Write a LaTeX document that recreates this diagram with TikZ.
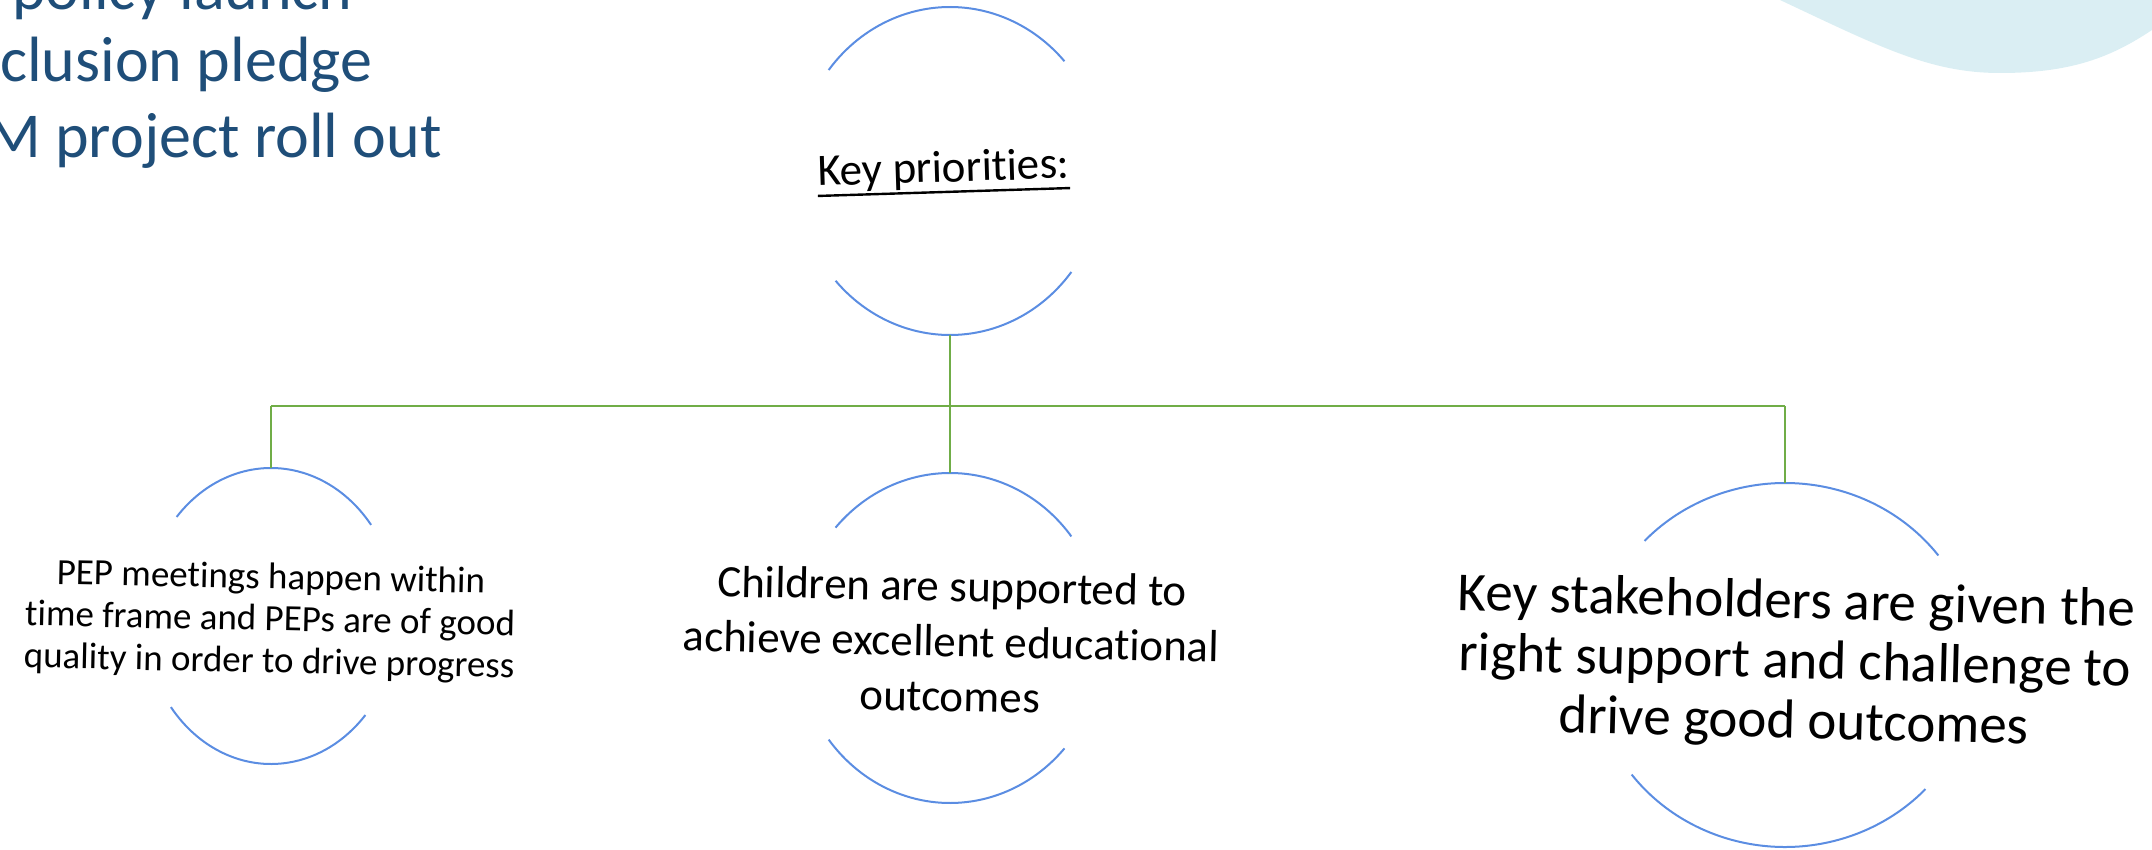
\documentclass[tikz,border=0pt]{standalone}
\usepackage{fontspec}
\setmainfont{Carlito}[Ligatures=NoCommon]
\usetikzlibrary{calc}
\definecolor{ringblue}{RGB}{91,141,226}
\definecolor{linkgreen}{RGB}{112,173,71}
\definecolor{slideblue}{RGB}{31,78,121}
\definecolor{blobblue}{RGB}{218,238,243}

\begin{document}
\begin{tikzpicture}[x=1pt,y=1pt,
  ring/.style={ringblue,line width=2pt},
  link/.style={linkgreen,line width=1.8pt},
  busline/.style={linkgreen,line width=2.6pt},
  note/.style={text=slideblue,font=\fontsize{64}{76}\selectfont,anchor=base west,inner sep=0pt},
  prio/.style={align=center,inner sep=0pt}]
\clip (0,0) rectangle (2152,-850);
% backdrop shape top right
\fill[blobblue] (1780,0) .. controls (1880,-47) and (1930,-73) .. (2000,-73)
  .. controls (2070,-73) and (2110,-58) .. (2152,-30) -- (2152,0) -- cycle;
% bullet lines cut at the left edge
\node[note] (launch) at (12,-10) {policy launch};
\node[note] (pledge) at (0,-82) {clusion pledge};
\node[note] (rollout) at (-14,-158) {M project roll out};
% ring centres
\coordinate (top) at (950,-171);
\coordinate (pep) at (271,-616);
\coordinate (mid) at (950,-638);
\coordinate (stake) at (1785,-665);
% ring ends for the tree
\coordinate (top-s) at ($(top)+(0,-164)$);
\coordinate (pep-n) at ($(pep)+(0,148)$);
\coordinate (mid-n) at ($(mid)+(0,165)$);
\coordinate (stake-n) at ($(stake)+(0,182)$);
\coordinate (bus) at (0,-406);
% arcs top ring
\draw[ring] ($(top)+(142:154pt and 164pt)$) arc[start angle=142,end angle=42,x radius=154pt,y radius=164pt];
\draw[ring] ($(top)+(222:154pt and 164pt)$) arc[start angle=222,end angle=322,x radius=154pt,y radius=164pt];
% arcs left ring
\draw[ring] ($(pep)+(138:127pt and 148pt)$) arc[start angle=138,end angle=38,x radius=127pt,y radius=148pt];
\draw[ring] ($(pep)+(218:127pt and 148pt)$) arc[start angle=218,end angle=318,x radius=127pt,y radius=148pt];
% arcs middle ring
\draw[ring] ($(mid)+(138:154pt and 165pt)$) arc[start angle=138,end angle=38,x radius=154pt,y radius=165pt];
\draw[ring] ($(mid)+(218:154pt and 165pt)$) arc[start angle=218,end angle=318,x radius=154pt,y radius=165pt];
% arcs right ring
\draw[ring] ($(stake)+(137:192pt and 182pt)$) arc[start angle=137,end angle=37,x radius=192pt,y radius=182pt];
\draw[ring] ($(stake)+(217:192pt and 182pt)$) arc[start angle=217,end angle=317,x radius=192pt,y radius=182pt];
% texts
\node[prio,anchor=base,rotate=1.8,font=\fontsize{45}{55}\selectfont] (keyp) at (944,-182) {Key priorities:};
\draw[line width=2.4pt] ($(keyp.base west)+(0,-10)$) -- ($(keyp.base east)+(0,-10)$);
\node[prio,rotate=-1.2,font=\fontsize{37}{42}\selectfont] (peptext) at (270,-621)
  {PEP meetings happen within\\time frame and PEPs are of good\\quality in order to drive progress};
\node[prio,rotate=-1.2,font=\fontsize{45}{55}\selectfont] (midtext) at (951,-641)
  {Children are supported to\\achieve excellent educational\\outcomes};
\node[prio,rotate=-1.4,font=\fontsize{55}{60}\selectfont] (staketext) at (1795,-664)
  {Key stakeholders are given the\\right support and challenge to\\drive good outcomes};
% tree lines
\draw[link] (top-s) -- (top-s |- bus);
\draw[busline] (pep-n |- bus) -- (stake-n |- bus);
\draw[link] (pep-n |- bus) -- (pep-n);
\draw[link] (mid-n |- bus) -- (mid-n);
\draw[link] (stake-n |- bus) -- (stake-n);
\end{tikzpicture}
\end{document}
